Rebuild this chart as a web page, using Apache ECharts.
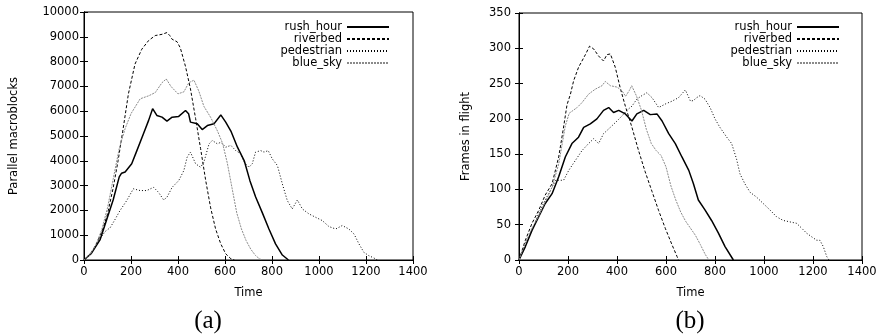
<!DOCTYPE html>
<html><head><meta charset="utf-8">
<script src="https://cdn.jsdelivr.net/npm/echarts@6/dist/echarts.min.js"></script>
<style>html,body{margin:0;padding:0;background:#fff}#c{width:880px;height:335px}</style>
</head><body><div id="c"></div>
<script>
// ---------- data ----------
const seriesNames = ['rush_hour', 'riverbed', 'pedestrian', 'blue_sky'];
const xMin = 0, xMax = 1400, xStep = 200;
const yMaxA = 10000, yStepA = 1000;
const yMaxB = 350, yStepB = 50;
const captions = ['(a)', '(b)'];
const yNames = ['Parallel macroblocks', 'Frames in flight'];
const xName = 'Time';

// (a) Parallel macroblocks
const rushA_t = [0,30,68,96,124,150,160,175,203,225,253,275,292,310,332,353,375,403,432,445,453,482,503,525,553,582,603,625,653,682,706,730,759,787,815,844,870];
const rushA_v = [0,250,810,1610,2420,3350,3500,3550,3880,4410,5090,5630,6100,5830,5760,5600,5760,5790,6030,5900,5560,5490,5260,5420,5490,5850,5560,5200,4550,4000,3200,2550,1900,1250,650,200,0];

const riverA_t = [0,20,40,60,80,100,124,145,165,189,217,246,275,303,332,353,365,375,396,410,432,453,475,496,518,539,560,582,603,625,640];
const riverA_v = [0,150,420,800,1250,1850,2900,4000,5200,6700,7900,8500,8850,9050,9100,9170,9050,8900,8800,8550,7800,6900,5700,4500,3200,2100,1250,650,250,50,0];

const pedA_t = [0,30,60,90,111,130,153,182,210,239,267,296,317,339,353,375,403,425,439,453,475,496,510,532,546,568,582,603,625,646,668,682,702,716,730,752,766,784,801,823,844,865,886,908,929,957,986,1014,1042,1071,1099,1127,1149,1170,1191,1212,1234,1248];
const pedA_v = [0,300,750,1150,1300,1600,1990,2400,2870,2800,2800,2930,2730,2420,2530,2930,3200,3610,4150,4350,3880,3740,3940,4680,4820,4680,4750,4550,4620,4410,4280,3940,3740,3880,4350,4410,4350,4410,4080,3810,3070,2400,2060,2420,2060,1860,1720,1590,1350,1250,1390,1250,1050,650,310,175,80,0];

const blueA_t = [0,25,50,75,100,125,150,175,200,239,275,303,332,350,370,400,425,446,468,489,510,539,568,590,610,630,650,670,690,710,730,745,757];
const blueA_v = [0,200,600,1200,2100,3300,4500,5300,5900,6500,6620,6750,7150,7300,7000,6700,6780,7150,7250,6800,6200,5750,5200,4700,3900,2900,1900,1250,780,430,180,60,0];

// (b) Frames in flight
const rushB_t = [0,26,53,80,107,135,162,189,216,243,264,291,318,345,366,386,407,434,461,481,509,536,563,584,611,638,665,693,712,732,759,786,814,841,875];
const rushB_v = [0,19,42,61,80,94,118,146,165,174,188,193,200,212,216,209,212,207,197,207,212,206,207,197,179,165,146,127,108,85,71,56,38,19,0];

const riverB_t = [0,26,53,80,107,135,162,180,196,210,223,243,271,288,305,325,345,359,373,393,413,434,461,488,515,543,570,597,624,645,651];
const riverB_v = [0,28,52,70,92,108,146,184,220,235,254,273,291,303,299,289,282,291,292,273,244,218,188,155,125,97,70,45,22,5,0];

const pedB_t = [0,26,53,80,107,135,150,182,203,230,257,284,305,325,345,373,400,420,440,461,481,502,522,543,570,597,624,651,679,700,712,725,739,759,780,800,820,848,868,888,902,922,943,970,997,1024,1052,1079,1106,1133,1154,1174,1194,1215,1228,1242,1256,1265];
const pedB_v = [0,24,42,66,85,103,113,113,127,141,155,165,172,165,179,188,197,204,212,218,228,233,237,230,216,221,225,230,241,225,226,230,233,228,216,200,188,174,165,143,122,108,96,89,80,71,61,56,54,52,45,38,33,28,28,19,5,0];

const blueB_t = [0,26,53,80,107,135,162,189,205,237,257,284,311,339,352,373,400,420,435,450,460,480,500,520,540,560,580,600,620,640,660,680,700,720,740,760,775];
const blueB_v = [0,24,45,62,82,103,136,190,208,216,223,235,242,247,253,247,245,240,232,240,247,232,212,185,165,155,148,132,105,85,68,55,45,35,22,8,0];

// ---------- build ----------
const zip = (t, v) => t.map((x, i) => [x, v[i]]);
const FONT = 'DejaVu Sans';
const FS = 11.5;
const styles = {
  rush_hour: { color: '#000', width: 1.5, type: 'solid' },
  riverbed: { color: '#000', width: 1, type: [3, 2] },
  pedestrian: { color: '#000', width: 1, type: [1, 2] },
  blue_sky: { color: '#8a8a8a', width: 1, type: [2, 1] }
};
const dataA = { rush_hour: zip(rushA_t, rushA_v), riverbed: zip(riverA_t, riverA_v), pedestrian: zip(pedA_t, pedA_v), blue_sky: zip(blueA_t, blueA_v) };
const dataB = { rush_hour: zip(rushB_t, rushB_v), riverbed: zip(riverB_t, riverB_v), pedestrian: zip(pedB_t, pedB_v), blue_sky: zip(blueB_t, blueB_v) };

function mkSeries(name, data, idx) {
  const s = styles[name];
  return {
    name, type: 'line', data, xAxisIndex: idx * 2, yAxisIndex: idx * 2,
    showSymbol: false, symbol: 'none', animation: false,
    color: s.color, itemStyle: { color: s.color },
    lineStyle: { color: s.color, width: s.width, type: s.type }
  };
}
const plain = v => String(v);
const axisCommon = {
  type: 'value',
  axisLine: { show: true, lineStyle: { color: '#000', width: 1 } },
  axisTick: { show: true, inside: true, length: 4, lineStyle: { color: '#000' } },
  splitLine: { show: false },
  axisLabel: { color: '#000', fontFamily: FONT, fontSize: FS, formatter: plain }
};
function xAxes(g) {
  return [
    Object.assign({}, axisCommon, { gridIndex: g, min: xMin, max: xMax, interval: xStep, position: 'bottom',
      axisLabel: Object.assign({}, axisCommon.axisLabel, { margin: 6 }),
      name: xName, nameLocation: 'middle', nameGap: 27,
      nameTextStyle: { color: '#000', fontFamily: FONT, fontSize: FS } }),
    Object.assign({}, axisCommon, { gridIndex: g, min: xMin, max: xMax, interval: xStep, position: 'top',
      axisLabel: { show: false } })
  ];
}
function yAxes(g, max, step, name, gap, margin) {
  return [
    Object.assign({}, axisCommon, { gridIndex: g, min: 0, max, interval: step, position: 'left',
      axisLabel: Object.assign({}, axisCommon.axisLabel, { margin }),
      name, nameLocation: 'middle', nameGap: gap,
      nameTextStyle: { color: '#000', fontFamily: FONT, fontSize: FS } }),
    Object.assign({}, axisCommon, { gridIndex: g, min: 0, max, interval: step, position: 'right',
      axisLabel: { show: false } })
  ];
}
const legendCommon = {
  orient: 'vertical', align: 'right', itemWidth: 42, itemHeight: 13, itemGap: 0,
  textStyle: { color: '#000', fontFamily: FONT, fontSize: FS },
  itemStyle: { opacity: 0, color: 'transparent', borderColor: 'transparent', borderWidth: 0 },
  data: seriesNames, selectedMode: false
};

const option = {
  animation: false,
  backgroundColor: '#fff',
  grid: [
    { left: 84, top: 12, width: 329, height: 248, show: true, borderColor: '#000', borderWidth: 1, backgroundColor: 'transparent' },
    { left: 519, top: 13, width: 343, height: 247, show: true, borderColor: '#000', borderWidth: 1, backgroundColor: 'transparent' }
  ],
  xAxis: [...xAxes(0), ...xAxes(1)],
  yAxis: [...yAxes(0, yMaxA, yStepA, yNames[0], 64, 5), ...yAxes(1, yMaxB, yStepB, yNames[1], 47, 8)],
  legend: [
    Object.assign({}, legendCommon, { right: 485, top: 16 }),
    Object.assign({}, legendCommon, { right: 35, top: 16 })
  ],
  graphic: [
    { type: 'text', x: 208, y: 321, style: { text: captions[0], fontFamily: 'Liberation Serif', fontSize: 25, fill: '#000', align: 'center', verticalAlign: 'middle' } },
    { type: 'text', x: 690, y: 321, style: { text: captions[1], fontFamily: 'Liberation Serif', fontSize: 25, fill: '#000', align: 'center', verticalAlign: 'middle' } }
  ],
  series: [
    ...seriesNames.map(n => mkSeries(n, dataA[n], 0)),
    ...seriesNames.map(n => mkSeries(n, dataB[n], 1))
  ]
};
const chart = echarts.init(document.getElementById('c'), null, { renderer: 'canvas' });
chart.setOption(option);
</script>
</body></html>
